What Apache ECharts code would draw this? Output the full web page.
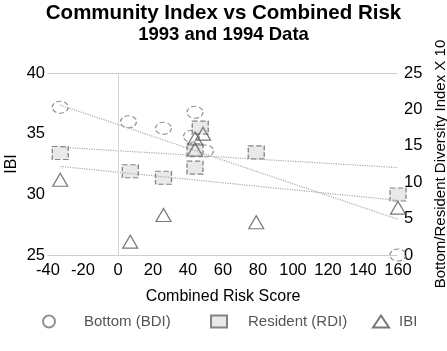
<!DOCTYPE html>
<html>
<head>
<meta charset="utf-8">
<script src="https://cdn.jsdelivr.net/npm/echarts@6/dist/echarts.min.js"></script>
<style>
  html, body { margin: 0; padding: 0; background: #fff; }
  #chart { width: 447px; height: 351px; }
</style>
</head>
<body>
<div id="chart"></div>
<script>
// Bottom (BDI) - right axis (x10)
var bdiX = [-33, 6, 26, 44, 42, 50, 160];
var bdiY = [20.3, 18.3, 17.4, 19.6, 16.3, 14.3, 0];
// Resident (RDI) - right axis (x10)
var rdiX = [-33, 7, 26, 44, 47, 44, 79, 160];
var rdiY = [14.0, 11.5, 10.6, 12.0, 17.5, 14.4, 14.1, 8.3];
// IBI - left axis
var ibiX = [-33, 7, 26, 44, 48.6, 44, 79, 160];
var ibiY = [31.2, 26.1, 28.3, 34.6, 35.0, 33.7, 27.7, 28.9];

// trend line end points
var trendX = [-33, 160];
var bdiTrend = [20.6, 4.9];
var rdiTrend = [14.8, 12.0];
var ibiTrend = [32.3, 29.5];

function pairs(xs, ys) {
    var out = [];
    for (var i = 0; i < xs.length; i++) out.push([xs[i], ys[i]]);
    return out;
}

var chart = echarts.init(document.getElementById('chart'));
var font = 'Liberation Sans, Arial, sans-serif';
var frame = { show: true, lineStyle: { color: '#c4c4c4', type: 'dotted', width: 1 } };

var option = {
    backgroundColor: '#fff',
    animation: false,
    textStyle: { fontFamily: font, color: '#000' },
    title: {
        text: 'Community Index vs Combined Risk',
        subtext: '1993 and 1994 Data',
        left: 'center',
        top: -2,
        itemGap: 1,
        textStyle: { fontSize: 20.5, fontWeight: 'bold', color: '#000', fontFamily: font },
        subtextStyle: { fontSize: 18.5, fontWeight: 'bold', color: '#000', fontFamily: font }
    },
    grid: { left: 48, right: 49, top: 73, bottom: 96, outerBoundsMode: 'none', containLabel: false },
    legend: [
        { left: 42, top: 314, padding: 0, itemWidth: 16, itemHeight: 12, data: ['Bottom (BDI)'],
          textStyle: { fontSize: 15, fontFamily: font, padding: [0, 0, 0, 22] } },
        { left: 210, top: 314, padding: 0, itemWidth: 16, itemHeight: 12, data: ['Resident (RDI)'],
          textStyle: { fontSize: 15, fontFamily: font, padding: [0, 0, 0, 16] } },
        { left: 372, top: 314, padding: 0, itemWidth: 16, itemHeight: 12, data: ['IBI'],
          textStyle: { fontSize: 15, fontFamily: font, padding: [0, 0, 0, 5] } }
    ],
    xAxis: [{
        type: 'value', min: -40, max: 160, interval: 20,
        name: 'Combined Risk Score', nameLocation: 'middle', nameGap: 34,
        nameTextStyle: { fontSize: 16, color: '#000', fontFamily: font },
        axisLine: frame, axisTick: { show: false }, splitLine: { show: false },
        axisLabel: { fontSize: 16.5, color: '#000', margin: 7, fontFamily: font }
    }, {
        type: 'value', position: 'top', min: -40, max: 160,
        axisLine: frame, axisTick: { show: false }, splitLine: { show: false },
        axisLabel: { show: false }
    }],
    yAxis: [{
        type: 'value', min: 25, max: 40, interval: 5,
        name: 'IBI', nameLocation: 'middle', nameGap: 28, nameRotate: 90, nameMoveOverlap: false,
        nameTextStyle: { fontSize: 16, color: '#000', fontFamily: font },
        axisLine: frame, axisTick: { show: false }, splitLine: { show: false },
        axisLabel: { fontSize: 16.5, color: '#000', margin: 3, fontFamily: font }
    }, {
        type: 'value', position: 'right', min: 0, max: 25, interval: 5,
        name: 'Bottom/Resident Diversity Index X 10', nameLocation: 'middle', nameGap: 31, nameRotate: 90,
        nameTextStyle: { fontSize: 15, color: '#000', fontFamily: font },
        axisLine: frame, axisTick: { show: false }, splitLine: { show: false },
        axisLabel: { fontSize: 16.5, color: '#000', margin: 6, fontFamily: font }
    }],
    series: [
        {
            name: 'x0', type: 'line', yAxisIndex: 0, data: [], silent: true,
            markLine: {
                symbol: 'none', silent: true, label: { show: false },
                lineStyle: { color: '#e0e0e0', type: 'dotted', width: 1 },
                data: [{ xAxis: 0 }]
            }
        },
        {
            name: 'bdiTrend', type: 'line', yAxisIndex: 1, showSymbol: false, silent: true,
            lineStyle: { color: '#aaa', type: 'dotted', width: 1.2 },
            data: pairs(trendX, bdiTrend)
        },
        {
            name: 'rdiTrend', type: 'line', yAxisIndex: 1, showSymbol: false, silent: true,
            lineStyle: { color: '#aaa', type: 'dotted', width: 1.2 },
            data: pairs(trendX, rdiTrend)
        },
        {
            name: 'ibiTrend', type: 'line', yAxisIndex: 0, showSymbol: false, silent: true,
            lineStyle: { color: '#aaa', type: 'dotted', width: 1.2 },
            data: pairs(trendX, ibiTrend)
        },
        {
            name: 'Bottom (BDI)', type: 'scatter', yAxisIndex: 1, clip: false,
            symbol: 'circle', symbolSize: [16, 12],
            itemStyle: { color: 'rgba(255,255,255,0)', borderColor: '#777', borderWidth: 1.2, borderType: 'dashed' },
            data: pairs(bdiX, bdiY)
        },
        {
            name: 'Resident (RDI)', type: 'scatter', yAxisIndex: 1, clip: false,
            symbol: 'rect', symbolSize: [16, 13],
            itemStyle: { color: '#e4e4e4', borderColor: '#666', borderWidth: 1.2, borderType: 'dashed' },
            data: pairs(rdiX, rdiY)
        },
        {
            name: 'IBI', type: 'scatter', yAxisIndex: 0, clip: false,
            symbol: 'triangle', symbolSize: [15, 13],
            itemStyle: { color: 'rgba(255,255,255,0)', borderColor: '#555', borderWidth: 1.2 },
            data: pairs(ibiX, ibiY)
        }
    ]
};

chart.setOption(option);
</script>
</body>
</html>
